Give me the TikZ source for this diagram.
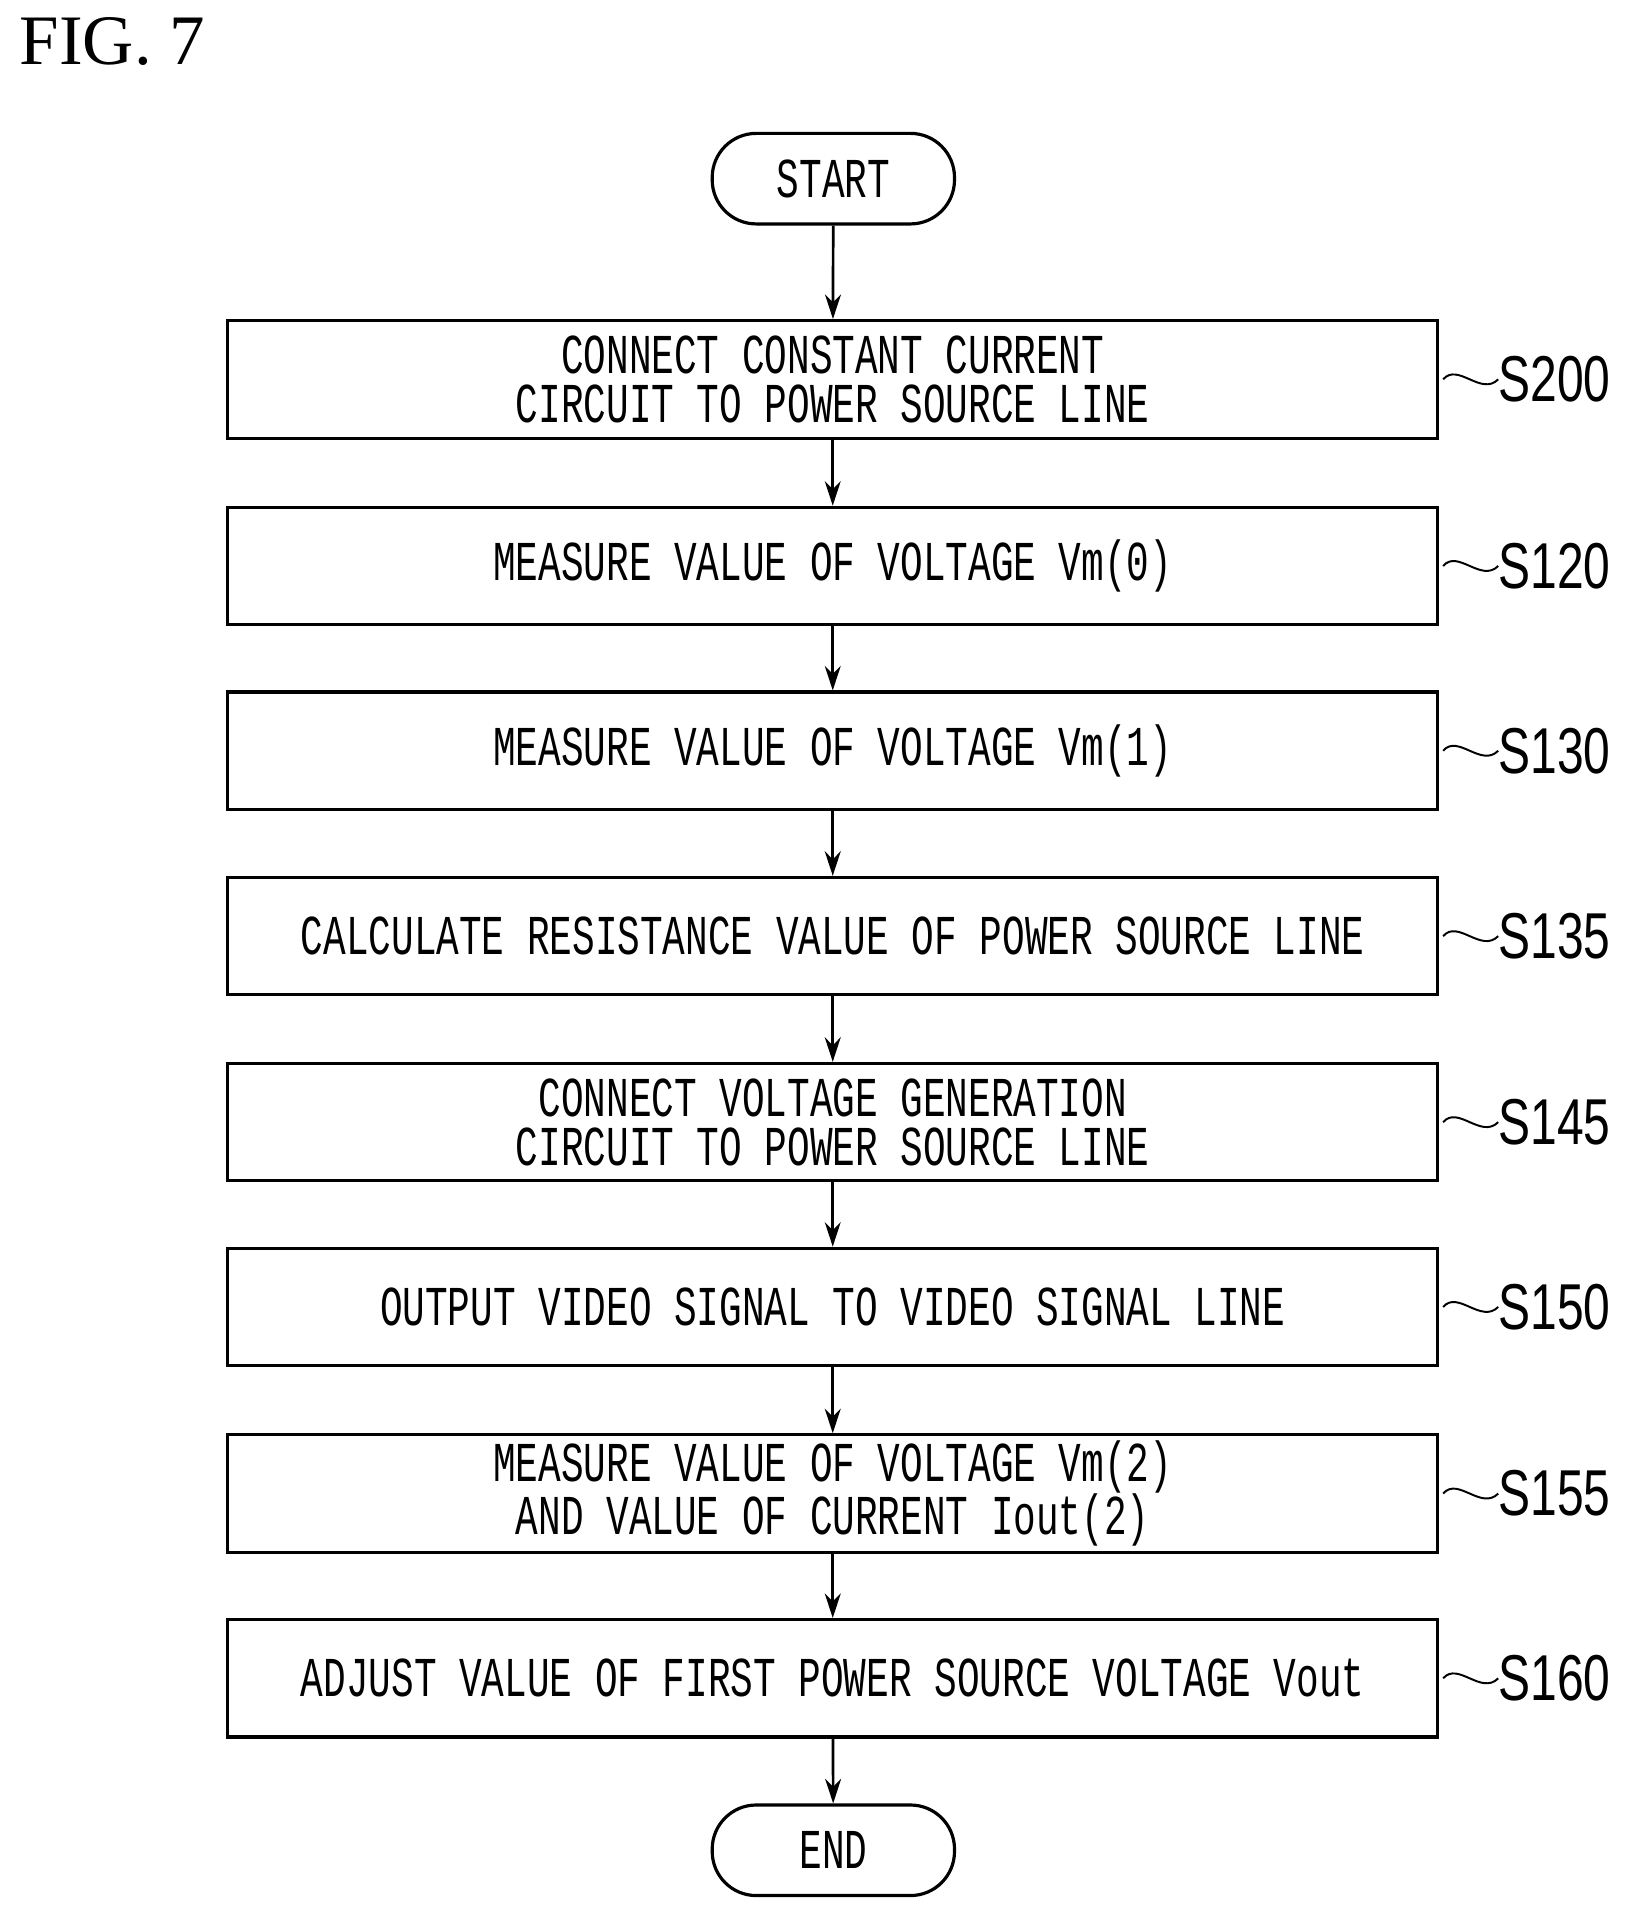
\documentclass[tikz,border=0pt]{standalone}
\usepackage{fontspec}
\setmainfont{Liberation Serif}
\newfontfamily\boxfont[FakeStretch=0.67]{Liberation Mono}
\newfontfamily\lblfont[FakeStretch=0.74]{Liberation Sans}
\usetikzlibrary{arrows.meta}
\begin{document}
\begin{tikzpicture}[x=1pt,y=-1pt,
  stepbox/.style={draw,line width=2.6pt,minimum width=989pt,minimum height=96pt,inner sep=0pt,align=center,font=\boxfont\fontsize{46}{40}\selectfont},
  term/.style={draw,line width=2.6pt,rounded corners=36pt,minimum width=198pt,minimum height=74pt,inner sep=0pt,font=\boxfont\fontsize{46}{40}\selectfont},
  lbl/.style={anchor=west,inner sep=0pt,font=\lblfont\fontsize{53}{53}\selectfont},
  arr/.style={line width=2.2pt,-{Stealth[length=20pt,width=13pt]}},
  tl/.style={line width=1.6pt}]
\useasboundingbox (0,0) rectangle (1330,1560);
\node[anchor=north west,inner sep=0pt,font=\fontsize{58}{58}\selectfont] (fig) at (16,14) {FIG. 7};
\node[term] (st) at (681,146) {START};
\node[stepbox] (a) at (680.5,310) {CONNECT CONSTANT CURRENT\\CIRCUIT TO POWER SOURCE LINE};
\node[stepbox] (b) at (680.5,462.5) {MEASURE VALUE OF VOLTAGE Vm(0)};
\node[stepbox] (c) at (680.5,613.5) {MEASURE VALUE OF VOLTAGE Vm(1)};
\node[stepbox] (d) at (680.5,765) {CALCULATE RESISTANCE VALUE OF POWER SOURCE LINE};
\node[stepbox] (e) at (680.5,917) {CONNECT VOLTAGE GENERATION\\CIRCUIT TO POWER SOURCE LINE};
\node[stepbox] (f) at (680.5,1068) {OUTPUT VIDEO SIGNAL TO VIDEO SIGNAL LINE};
\node[stepbox] (g) at (680.5,1220.5) {MEASURE VALUE OF VOLTAGE Vm(2)\\AND VALUE OF CURRENT Iout(2)};
\node[stepbox] (h) at (680.5,1371.5) {ADJUST VALUE OF FIRST POWER SOURCE VOLTAGE Vout};
\node[term] (en) at (681,1512) {END};
\foreach \u/\v in {st/a,a/b,b/c,c/d,d/e,e/f,f/g,g/h,h/en} \draw[arr] (\u) -- (\v);
\foreach \n/\t in {a/S200,b/S120,c/S130,d/S135,e/S145,f/S150,g/S155,h/S160}{
  \node[lbl] (l\n) at ([xshift=48pt]\n.east) {\t};
  \draw[tl] ([xshift=3pt]\n.east) .. controls +(12,-14) and +(-14,14) .. (l\n.west);
}
\end{tikzpicture}
\end{document}
